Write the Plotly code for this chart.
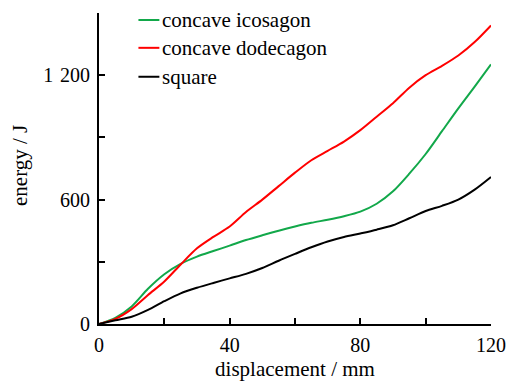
import plotly.graph_objects as go

displacement = [0, 5, 10, 15, 20, 25, 30, 35, 40, 45, 50, 55, 60, 65, 70, 75, 80, 85, 90, 95, 100, 105, 110, 115, 120]

icosagon = [0, 30, 85, 170, 240, 290, 325, 352, 378, 405, 428, 450, 470, 488, 503, 520, 542, 580, 640, 725, 820, 930, 1040, 1145, 1252]
dodecagon = [0, 25, 72, 140, 205, 287, 365, 420, 470, 540, 600, 665, 730, 790, 835, 880, 935, 1000, 1065, 1140, 1200, 1245, 1295, 1360, 1440]
square = [0, 18, 35, 68, 110, 148, 175, 198, 220, 242, 270, 305, 338, 370, 398, 420, 437, 455, 476, 510, 545, 570, 600, 648, 709]

series_names = ["concave icosagon", "concave dodecagon", "square"]
series_colors = ["#12a84a", "#ff0000", "#000000"]
series_values = [icosagon, dodecagon, square]

x_tickvals = [0, 20, 40, 60, 80, 100, 120]
x_ticktext = ["0", "", "40", "", "80", "", "120"]
y_tickvals = [0, 300, 600, 900, 1200, 1500]
y_ticktext = ["0", "", "600", "", "1\u00a0\u200a200", ""]

FONT = "Liberation Serif"

fig = go.Figure()
for name, color, vals in zip(series_names, series_colors, series_values):
    fig.add_trace(go.Scatter(x=displacement, y=vals, mode="lines", name=name,
                             line=dict(color=color, width=2, shape="spline", smoothing=0.8),
                             showlegend=False))

# custom legend
legend_y = [0.9775, 0.888, 0.795]
for name, color, ly in zip(series_names, series_colors, legend_y):
    fig.add_shape(type="line", xref="paper", yref="paper", x0=0.1006, x1=0.154, y0=ly, y1=ly,
                  line=dict(color=color, width=2))
    fig.add_annotation(xref="paper", yref="paper", x=0.156, y=ly, text=name, showarrow=False,
                       xanchor="left", yanchor="middle", font=dict(family=FONT, size=21, color="#000"))

# y-axis title
fig.add_annotation(xref="paper", yref="paper", x=-0.2, y=0.51, text="energy / J", showarrow=False,
                   textangle=-90, xanchor="center", yanchor="middle",
                   font=dict(family=FONT, size=21, color="#000"))

fig.update_layout(
    width=509, height=381,
    margin=dict(l=99, r=18, t=13, b=57),
    paper_bgcolor="white", plot_bgcolor="white",
    font=dict(family=FONT, size=20, color="#000"),
    showlegend=False,
)
fig.update_xaxes(range=[0, 120], showline=True, linecolor="#000", linewidth=2,
                 showgrid=False, zeroline=False, ticks="inside", ticklen=6, tickwidth=1.5,
                 tickcolor="#000", tickvals=x_tickvals, ticktext=x_ticktext,
                 ticklabelstandoff=2,
                 title=dict(text="displacement / mm", font=dict(family=FONT, size=21), standoff=12),
                 automargin=False)
fig.update_yaxes(range=[0, 1500], showline=True, linecolor="#000", linewidth=2,
                 showgrid=False, zeroline=False, ticks="inside", ticklen=6, tickwidth=1.5,
                 tickcolor="#000", tickvals=y_tickvals, ticktext=y_ticktext,
                 ticklabelstandoff=3,
                 automargin=False)

fig.write_html("out.html")
